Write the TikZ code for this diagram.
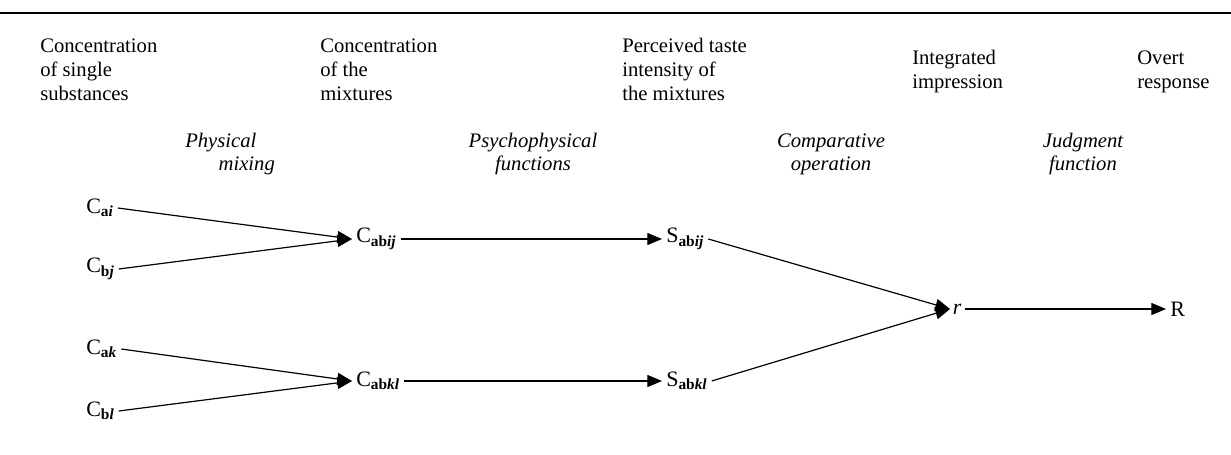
\documentclass[tikz,border=0pt]{standalone}
\usepackage{fontspec}
\setmainfont{Liberation Serif}
\usetikzlibrary{arrows.meta,positioning}

\newcommand{\varsub}[2]{\textsubscript{\textbf{#1}\textbf{\textit{#2}}}}

\begin{document}
\begin{tikzpicture}[x=0.75pt,y=-0.75pt,
  head/.style={anchor=base west, align=left, inner sep=0pt, font=\fontsize{15.5}{18}\selectfont},
  proc/.style={anchor=base, align=center, inner sep=0pt, font=\fontsize{15.5}{17}\selectfont\itshape},
  var/.style={anchor=west, inner sep=3pt, font=\fontsize{16.5}{19}\selectfont},
  arrow/.style={line width=0.9pt, -{Triangle[length=11pt,width=9pt]}}]

\useasboundingbox (0,0) rectangle (1231,454);
\draw[line width=0.9pt] (0,13) -- (1231,13);

% Headings (placed by the baseline of their last line)
\node (h1) [head] at (40,100) {Concentration\\of single\\substances};
\node (h2) [head] at (320,100) {Concentration\\of the\\mixtures};
\node (h3) [head] at (622,100) {Perceived taste\\intensity of\\the mixtures};
\node (h4) [head] at (912,88) {Integrated\\impression};
\node (h5) [head] at (1137,88) {Overt\\response};

% Operations
\node (p1) [proc, align=left, anchor=base west] at (185,170) {Physical\\\hspace*{25pt}mixing};
\node (p2) [proc] at (533,170) {Psychophysical\\functions};
\node (p3) [proc] at (831,170) {Comparative\\operation};
\node (p4) [proc] at (1083,170) {Judgment\\function};

% Variables
\node (cai) [var] at (82,208) {C\varsub{a}{i}};
\node (cbj) [var] at (82,269) {C\varsub{b}{j}};
\node (cak) [var] at (82,349) {C\varsub{a}{k}};
\node (cbl) [var] at (82,411) {C\varsub{b}{l}};
\node (cabij) [var] at (352,239) {C\varsub{ab}{ij}};
\node (cabkl) [var] at (352,381) {C\varsub{ab}{kl}};
\node (sabij) [var] at (662,239) {S\varsub{ab}{ij}};
\node (sabkl) [var] at (662,381) {S\varsub{ab}{kl}};
\node (r) [var, inner sep=2pt] at (950,309) {\textit{r}};
\node (R) [var] at (1166,309) {R};

% Arrows
\draw [arrow] (cai.east) -- (cabij.west);
\draw [arrow] (cbj.east) -- (cabij.west);
\draw [arrow] (cak.east) -- (cabkl.west);
\draw [arrow] (cbl.east) -- (cabkl.west);
\draw [arrow] (cabij.east) -- (sabij.west);
\draw [arrow] (cabkl.east) -- (sabkl.west);
\draw [arrow] (sabij.east) -- (r.west);
\draw [arrow] (sabkl.east) -- (r.west);
\draw [arrow] (r.east) -- (R.west);

\end{tikzpicture}
\end{document}
